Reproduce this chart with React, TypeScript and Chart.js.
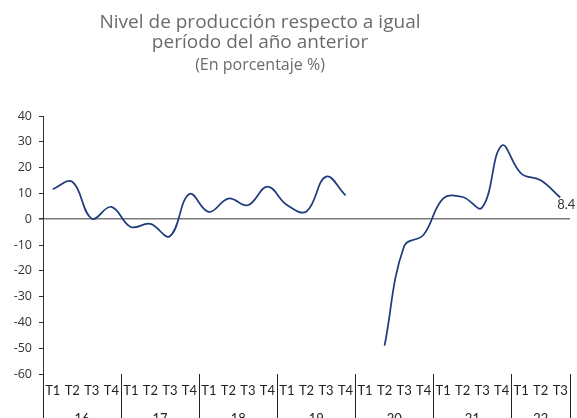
import React, { useEffect, useRef } from "react";
import { Chart, registerables } from "chart.js";

Chart.register(...registerables);

// ---- data ----
const years = ["16", "17", "18", "19", "20", "21", "22"];
const quartersPerYear = [4, 4, 4, 4, 4, 4, 3];
const quarterNames = ["T1", "T2", "T3", "T4"];

const values2016 = [11.6, 14.5, 0.2, 4.8];
const values2017 = [-3.0, -1.8, -6.6, 9.8];
const values2018 = [2.8, 8.0, 5.4, 12.6];
const values2019 = [5.5, 3.0, 16.5, 9.2];
const values2020 = [null, -49.0, -10.5, -6.0];
const values2021 = [8.0, 8.6, 4.5, 28.5];
const values2022 = [17.7, 15.1, 8.4];

const lastValueLabel = "8.4";
const titleLines = ["Nivel de producción respecto a igual", "período del año anterior"];
const subtitleText = "(En porcentaje %)";
const yMin = -60;
const yMax = 40;
const yStep = 10;

const FONT = "Lato";
const TITLE_FONT = "'Open Sans'";

const quarterLabels: string[] = [];
years.forEach((_, i) => {
  for (let q = 0; q < quartersPerYear[i]; q++) quarterLabels.push(quarterNames[q]);
});
const seriesValues: (number | null)[] = [
  ...values2016,
  ...values2017,
  ...values2018,
  ...values2019,
  ...values2020,
  ...values2021,
  ...values2022,
];

const overlayPlugin = {
  id: "overlay",
  afterDraw(chart: any) {
    const { ctx, chartArea, scales } = chart;
    const xs = scales.x;
    const step = xs.getPixelForValue(1) - xs.getPixelForValue(0);
    ctx.save();

    // year separators and labels
    ctx.strokeStyle = "#222";
    ctx.lineWidth = 1;
    ctx.fillStyle = "#222";
    ctx.font = `13px ${FONT}`;
    ctx.textAlign = "center";
    ctx.textBaseline = "top";
    let idx = 0;
    years.forEach((yr, i) => {
      const n = quartersPerYear[i];
      const start = xs.getPixelForValue(idx) - step / 2;
      const end = xs.getPixelForValue(idx + n - 1) + step / 2;
      const drawSep = (px: number) => {
        const sx = Math.round(px) + 0.5;
        ctx.beginPath();
        ctx.moveTo(sx, chartArea.bottom);
        ctx.lineTo(sx, chart.height);
        ctx.stroke();
      };
      drawSep(start);
      if (i === years.length - 1) drawSep(end);
      ctx.fillText(yr, (start + end) / 2, chartArea.bottom + 38);
      idx += n;
    });

    // title
    const cx = 260;
    ctx.fillStyle = "#6b6b6b";
    ctx.textBaseline = "middle";
    ctx.font = `19px ${TITLE_FONT}`;
    ctx.fillText(titleLines[0], cx, 23);
    ctx.fillText(titleLines[1], cx, 43);
    ctx.font = `16px ${TITLE_FONT}`;
    ctx.fillText(subtitleText, cx, 65);

    // last value label
    const meta = chart.getDatasetMeta(0);
    const pt = meta.data[seriesValues.length - 1];
    if (pt) {
      ctx.fillStyle = "#333";
      ctx.font = `13px ${FONT}`;
      ctx.textAlign = "left";
      ctx.textBaseline = "middle";
      ctx.fillText(lastValueLabel, pt.x - 3, pt.y + 7);
    }
    ctx.restore();
  },
};

export default function App() {
  const canvasRef = useRef<HTMLCanvasElement | null>(null);

  useEffect(() => {
    document.body.style.margin = "0";
    const canvas = canvasRef.current;
    if (!canvas) return;
    const chart = new Chart(canvas, {
      type: "line",
      data: {
        labels: quarterLabels,
        datasets: [
          {
            data: seriesValues,
            borderColor: "#1f3c7c",
            borderWidth: 1.75,
            pointRadius: 0,
            tension: 0.4,
            spanGaps: false,
            fill: false,
          },
        ],
      },
      options: {
        animation: false,
        responsive: true,
        maintainAspectRatio: false,
        layout: { padding: { top: 116, right: 7, left: 0, bottom: 0 } },
        plugins: {
          legend: { display: false },
          tooltip: { enabled: false },
          title: { display: false },
        },
        scales: {
          x: {
            type: "category",
            offset: true,
            grid: { display: false, drawTicks: false },
            border: { display: false },
            ticks: {
              color: "#222",
              font: { family: FONT, size: 13 },
              padding: 9,
              maxRotation: 0,
              autoSkip: false,
            },
            afterFit: (s: any) => {
              s.height = 44;
            },
          },
          y: {
            min: yMin,
            max: yMax,
            ticks: {
              stepSize: yStep,
              color: "#333",
              font: { family: "'Open Sans'", size: 12.5 },
              padding: 7,
            },
            grid: {
              color: (c: any) => (c.tick && c.tick.value === 0 ? "#7a7a7a" : "rgba(0,0,0,0)"),
              lineWidth: (c: any) => (c.tick && c.tick.value === 0 ? 1.5 : 1),
              tickColor: "#333",
              tickLength: 4,
              drawTicks: true,
            },
            border: { display: true, color: "#333", width: 1 },
            afterFit: (s: any) => {
              s.width = 43;
            },
          },
        },
      },
      plugins: [overlayPlugin],
    });
    return () => chart.destroy();
  }, []);

  return (
    <div style={{ position: "relative", width: 577, height: 418 }}>
      <canvas ref={canvasRef} />
    </div>
  );
}
